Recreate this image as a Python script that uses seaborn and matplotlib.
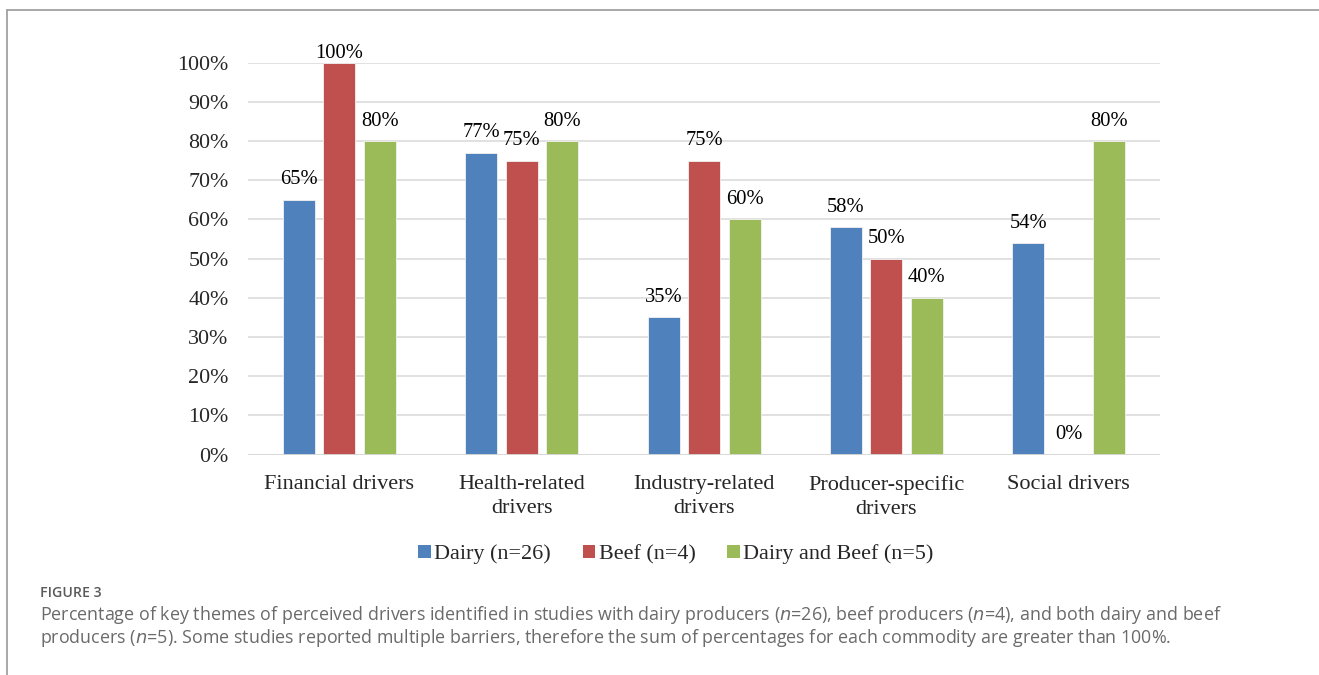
import matplotlib
matplotlib.use("Agg")
import matplotlib.pyplot as plt
from matplotlib.patches import Patch
from matplotlib.lines import Line2D
import seaborn as sns
import pandas as pd

# Share of studies mentioning each driver theme (%)
categories = ["Financial drivers", "Health-related\ndrivers", "Industry-related\ndrivers",
              "Producer-specific\ndrivers", "Social drivers"]
groups = ["Dairy (n=26)", "Beef (n=4)", "Dairy and Beef (n=5)"]
dairy = [65, 77, 35, 58, 54]
beef = [100, 75, 75, 50, 0]
dairy_beef = [80, 80, 60, 40, 80]
y_ticks = [0, 10, 20, 30, 40, 50, 60, 70, 80, 90, 100]

colors = ["#4F81BD", "#C0504D", "#9BBB59"]

df = pd.DataFrame({
    "category": categories * 3,
    "group": [g for g in groups for _ in categories],
    "value": dairy + beef + dairy_beef,
})

sns.set_theme(style="white")
plt.rcParams["font.family"] = ["Liberation Serif", "DejaVu Serif"]

fig = plt.figure(figsize=(13.19, 6.75), dpi=100)
ax = fig.add_axes([0.188, 0.3264, 0.6915, 0.5807])

sns.barplot(data=df, x="category", y="value", hue="group", palette=colors,
            order=categories, hue_order=groups, width=0.666, gap=0.21,
            saturation=1, legend=False, ax=ax, errorbar=None,
            edgecolor="#F2F2F2", linewidth=0.6)

ax.set_ylim(0, 100)
ax.set_xlim(-0.5, 4.5)
ax.set_yticks(y_ticks)
ax.set_yticklabels([f"{t}%" for t in y_ticks], fontsize=15.8)
ax.tick_params(axis="y", length=0, pad=14)
ax.tick_params(axis="x", length=0, pad=14.5, labelsize=16)
for lab in ax.get_xticklabels():
    lab.set_linespacing(1.36)
ax.set_xlabel("")
ax.set_ylabel("")
ax.grid(axis="y", color="#D9D9D9", linewidth=1.1)
ax.set_axisbelow(True)
for side in ["top", "right", "left", "bottom"]:
    ax.spines[side].set_visible(False)
ax.axhline(0, color="#D9D9D9", linewidth=1.3, zorder=1)

# value labels above each bar, kept inside the plot area at the top
for container in ax.containers:
    for bar in container:
        v = bar.get_height()
        off = 0 if v >= 100 else 7.5
        ax.annotate(f"{v:.0f}%", (bar.get_x() + bar.get_width() / 2, v),
                    xytext=(0, off), textcoords="offset points",
                    ha="center", va="bottom", fontsize=14.8, color="#000000",
                    annotation_clip=False)

handles = [Patch(facecolor=c, edgecolor="none") for c in colors]
fig.legend(handles, groups, loc="center", bbox_to_anchor=(0.5125, 0.179),
           ncol=3, frameon=False, fontsize=15.9, handlelength=0.56, handleheight=0.56,
           handletextpad=0.15, columnspacing=1.45)

# frame around the figure panel
fig.add_artist(Line2D([7 / 1319, 1], [1 - 10 / 675, 1 - 10 / 675],
                      transform=fig.transFigure, color="#9A9A9A", linewidth=1.2))
fig.add_artist(Line2D([7 / 1319, 7 / 1319], [0, 1 - 10 / 675],
                      transform=fig.transFigure, color="#9A9A9A", linewidth=1.2))

cap_font = ["Open Sans", "DejaVu Sans"]
fig.text(40 / 1319, 1 - 597 / 675, "FIGURE 3", family=cap_font, fontsize=10.2,
         fontweight="semibold", color="#5A5A5A", va="baseline", ha="left")
fig.text(40 / 1319, 1 - 620 / 675,
         "Percentage of key themes of perceived drivers identified in studies with dairy producers "
         "($\\it{n}$=26), beef producers ($\\it{n}$=4), and both dairy and beef",
         family=cap_font, fontsize=12.9, color="#6A6A6A", va="baseline", ha="left")
fig.text(40 / 1319, 1 - 643 / 675,
         "producers ($\\it{n}$=5). Some studies reported multiple barriers, therefore the sum of "
         "percentages for each commodity are greater than 100%.",
         family=cap_font, fontsize=12.9, color="#6A6A6A", va="baseline", ha="left")

fig.savefig("out.png", dpi=100, facecolor="white")
